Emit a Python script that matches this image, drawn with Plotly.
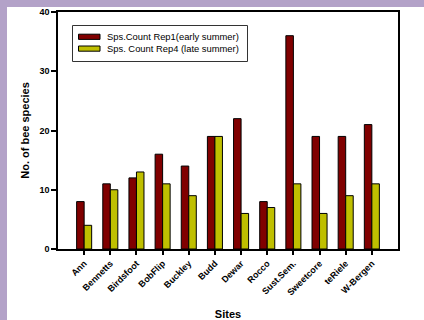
import plotly.graph_objects as go

sites = ["Ann", "Bennetts", "Birdsfoot", "BobFlip", "Buckley", "Budd", "Dewar",
         "Rocco", "Sust.Sem.", "Sweetcore", "teRiele", "W-Bergen"]
rep1 = [8, 11, 12, 16, 14, 19, 22, 8, 36, 19, 19, 21]
rep4 = [4, 10, 13, 11, 9, 19, 6, 7, 11, 6, 9, 11]
name1 = "Sps.Count Rep1(early summer)"
name4 = "Sps. Count Rep4 (late summer)"
yticks = [0, 10, 20, 30, 40]
colors = ["#800000", "#BFBF00"]

FONT = "Liberation Sans, Arial, sans-serif"
W, H = 424, 320
L, R, T, B = 58, 26, 12, 71
pw = W - L - R
ph = H - T - B
PURPLE = "#B3A2C8"


def px(x):
    return (x - L) / pw


def py(y):
    return (H - B - y) / ph


fig = go.Figure()
for vals, name, col in [(rep1, name1, colors[0]), (rep4, name4, colors[1])]:
    fig.add_trace(go.Bar(x=sites, y=vals, name=name, showlegend=False,
                         marker=dict(color=col, line=dict(color="black", width=1))))

shapes = [dict(type="rect", xref="paper", yref="paper",
               x0=px(-5), x1=px(W + 5), y0=py(7), y1=py(-5),
               fillcolor=PURPLE, line=dict(width=0), layer="below"),
          dict(type="rect", xref="paper", yref="paper",
               x0=px(-5), x1=px(7), y0=py(H + 5), y1=py(-5),
               fillcolor=PURPLE, line=dict(width=0), layer="below"),
          dict(type="rect", xref="paper", yref="paper",
               x0=px(72.5), x1=px(247.5), y0=py(61.5), y1=py(25.5),
               fillcolor="white", line=dict(color="#333333", width=1))]
annotations = []
for i, (name, col) in enumerate([(name1, colors[0]), (name4, colors[1])]):
    cy = 36.8 + i * 11.8
    shapes.append(dict(type="rect", xref="paper", yref="paper",
                       x0=px(78.5), x1=px(100), y0=py(cy + 2.6), y1=py(cy - 2.6),
                       fillcolor=col, line=dict(color="black", width=1)))
    annotations.append(dict(text=name, xref="paper", yref="paper",
                            x=px(105), y=py(cy), xanchor="left", yanchor="middle",
                            showarrow=False, font=dict(size=9.4, family=FONT)))

fig.update_layout(
    width=W, height=H,
    margin=dict(l=L, r=R, t=T, b=B),
    paper_bgcolor="white",
    plot_bgcolor="white",
    barmode="group", bargap=0.425, bargroupgap=0,
    font=dict(family=FONT, color="black"),
    showlegend=False,
    shapes=shapes, annotations=annotations,
)
fig.update_xaxes(
    range=[-1, 12], showline=True, linecolor="black", linewidth=1.5, mirror=True,
    ticks="outside", ticklen=4, tickwidth=1.5, tickcolor="black",
    tickangle=-45, tickfont=dict(size=9, family=FONT, weight="bold"),
    title=dict(text="Sites", font=dict(size=11, weight="bold"), standoff=14),
    showgrid=False, automargin=False,
)
fig.update_yaxes(
    range=[0, 40], tickvals=yticks, showline=True, linecolor="black", linewidth=1.5,
    mirror=True, ticks="outside", ticklen=5, tickwidth=1.5, tickcolor="black",
    tickfont=dict(size=9, family=FONT, weight="bold"),
    title=dict(text="No. of bee species", font=dict(size=11, weight="bold"), standoff=8),
    showgrid=False, zeroline=False, automargin=False,
)
fig.write_html("out.html")
